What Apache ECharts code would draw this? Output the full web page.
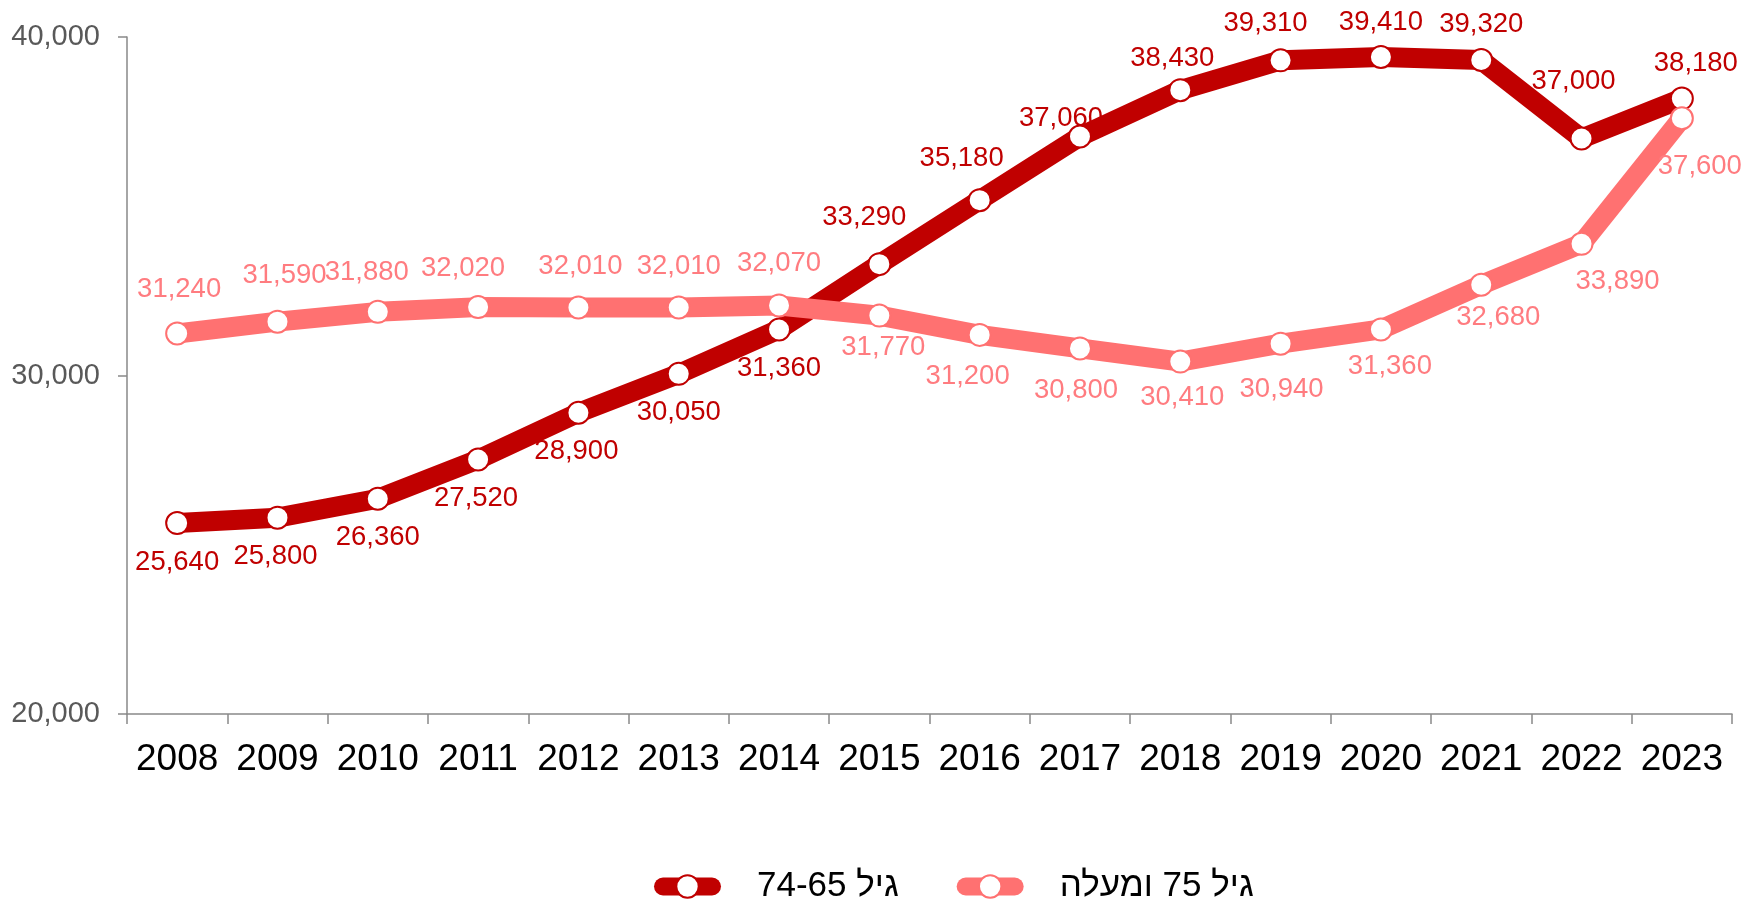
<!DOCTYPE html>
<html>
<head>
<meta charset="utf-8">
<script src="https://cdn.jsdelivr.net/npm/echarts@6/dist/echarts.min.js"></script>
<style>
html,body{margin:0;padding:0;background:#fff;}
#chart{width:1745px;height:902px;}
</style>
</head>
<body>
<div id="chart"></div>
<script>
// ---- data ----
const years = ['2008','2009','2010','2011','2012','2013','2014','2015','2016','2017','2018','2019','2020','2021','2022','2023'];
const age65to74 = [25640, 25800, 26360, 27520, 28900, 30050, 31360, 33290, 35180, 37060, 38430, 39310, 39410, 39320, 37000, 38180];
const age75plus = [31240, 31590, 31880, 32020, 32010, 32010, 32070, 31770, 31200, 30800, 30410, 30940, 31360, 32680, 33890, 37600];
const seriesNames = ['גיל 74-65', 'גיל 75 ומעלה'];
const yTicks = [20000, 30000, 40000];

// ---- label placement (layout only) ----
const darkLabelOffsets = [[0,39],[-2,39],[0,39],[-2,39],[-2,39],[0,39],[0,39],[-15,-47],[-18,-42],[-19,-18],[-8,-32],[-15,-37],[0,-35],[0,-36],[-8,-57],[14,-35]];
const pinkLabelOffsets = [[2,-44],[7,-46],[-11,-39],[-15,-39],[2,-41],[0,-41],[0,-42],[4,32],[-12,42],[-4,42],[2,36],[1,46],[9,37],[17,33],[36,38],[18,48]];

const DARK = '#C00000';
const PINK = '#FF7171';
const PINK_TEXT = '#FF7C80';
const FONT = '"Liberation Sans", Arial, sans-serif';

function fmt(v){ return Number(v).toLocaleString('en-US'); }

function buildData(values, offsets){
  return values.map((v,i)=>({value:v, label:{offset:offsets[i]}}));
}

function lineSeries(name, values, offsets, color, textColor){
  return {
    name: name,
    type: 'line',
    data: buildData(values, offsets),
    symbol: 'circle',
    symbolSize: 22,
    lineStyle: {color: color, width: 20, cap: 'butt', join: 'round'},
    itemStyle: {color: '#ffffff', borderColor: color, borderWidth: 2},
    emphasis: {disabled: true},
    label: {
      show: true,
      position: 'inside',
      color: textColor,
      fontSize: 27.5,
      fontFamily: FONT,
      formatter: p => fmt(p.value)
    },
    animation: false
  };
}

const chart = echarts.init(document.getElementById('chart'), null, {renderer:'canvas'});
chart.setOption({
  backgroundColor: '#ffffff',
  animation: false,
  grid: {left: 127, right: 13, top: 37, bottom: 188, containLabel: false},
  legend: {
    data: seriesNames,
    left: 649,
    top: 864,
    itemWidth: 49,
    itemHeight: 28,
    itemGap: 58,
    lineStyle: {width: 18, cap: 'round'},
    textStyle: {fontSize: 35, color: '#000', fontFamily: FONT, padding: [0,0,0,40]}
  },
  xAxis: {
    type: 'category',
    data: years,
    boundaryGap: true,
    axisLine: {lineStyle: {color: '#898989', width: 1.5}},
    axisTick: {show: true, length: 10, alignWithLabel: false, lineStyle: {color: '#898989', width: 1.5}},
    axisLabel: {color: '#000', fontSize: 37, fontFamily: FONT, margin: 27, interval: 0},
    splitLine: {show: false}
  },
  yAxis: {
    type: 'value',
    min: yTicks[0],
    max: yTicks[yTicks.length-1],
    interval: yTicks[1]-yTicks[0],
    axisLine: {show: true, lineStyle: {color: '#898989', width: 1.5}},
    axisTick: {show: true, length: 9, lineStyle: {color: '#898989', width: 1.5}},
    axisLabel: {color: '#595959', fontSize: 29, fontFamily: FONT, margin: 27, formatter: v => fmt(v)},
    splitLine: {show: false}
  },
  series: [
    lineSeries(seriesNames[0], age65to74, darkLabelOffsets, DARK, DARK),
    lineSeries(seriesNames[1], age75plus, pinkLabelOffsets, PINK, PINK_TEXT)
  ]
});
</script>
</body>
</html>
